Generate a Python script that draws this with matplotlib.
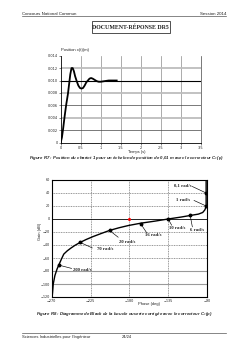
import matplotlib.pyplot as plt
from matplotlib.patches import Rectangle
from matplotlib.lines import Line2D

# Figure R7 : réponse indicielle
temps = [0, 0.03, 0.06, 0.10, 0.14, 0.18, 0.21, 0.24, 0.27, 0.30, 0.33, 0.36,
         0.40, 0.44, 0.48, 0.52, 0.56, 0.60, 0.64, 0.68, 0.72, 0.76, 0.80,
         0.85, 0.90, 0.95, 1.00, 1.10, 1.20, 1.30, 1.40]
position = [0, 0.0008, 0.0022, 0.0043, 0.0062, 0.0078, 0.0094, 0.0110, 0.0120,
            0.0120, 0.0115, 0.0107, 0.0099, 0.0092, 0.0088, 0.0087, 0.0088,
            0.0092, 0.0097, 0.0100, 0.0103, 0.0104, 0.0103, 0.0101, 0.0099,
            0.0098, 0.0098, 0.0099, 0.0100, 0.0100, 0.0100]
t_ticks = [0, 0.5, 1, 1.5, 2, 2.5, 3, 3.5]
t_labels = ['0', '0,5', '1', '1,5', '2', '2,5', '3', '3,5']
x_ticks = [0, 0.002, 0.004, 0.006, 0.008, 0.010, 0.012, 0.014]
x_labels = ['0', '0,002', '0,004', '0,006', '0,008', '0,010', '0,012', '0,014']

# Figure R8 : diagramme de Black
phase = [-269.5, -269, -268.2, -266.3, -263.8, -261.5, -258.5, -256, -252, -248,
         -243, -237, -230, -222, -213, -203, -192, -181, -167, -150, -135,
         -120, -109.5, -100, -95, -92.5, -91.3, -91, -91, -91]
gain = [-120, -113, -100, -87, -77, -70, -61, -54, -49, -45, -40.5, -36, -31.5,
        -27, -22.5, -17.6, -13.5, -10, -6.5, -3.2, 0, 3, 5.4, 7.5, 10, 14, 18,
        20, 40, 60]
pulsations = ['0,1 rad/s', '1 rad/s', '6 rad/s', '10 rad/s', '16 rad/s',
              '20 rad/s', '70 rad/s', '200 rad/s']
pt_phase = [-91, -91, -109.5, -135, -167, -203, -237, -261.5]
pt_gain = [40, 20, 5.4, 0, -7, -17.6, -36, -71]
# position des étiquettes (centre du texte) et bout du trait
lab_xy = [(-118, 51.5), (-118, 29), (-101, -17.5), (-124, -13.5), (-152, -25),
          (-182, -35), (-208, -46), (-234, -79)]
end_xy = [(-107, 50), (-105, 28.5), (-107, -12), (-131, -9.5), (-160, -21),
          (-193, -28), (-223, -44.5), (-247, -76)]

W, H = 248, 351


def fx(x):
    return x / W


def fy(y):
    return 1 - y / H


fig = plt.figure(figsize=(2.48, 3.51), dpi=100)
txt = '#222222'
sans = 'Liberation Sans'
serif = 'Liberation Serif'

# En-tête / pied de page
fig.text(fx(22), fy(15), 'Concours National Commun', fontsize=3.2, family=sans,
         color=txt, ha='left', va='baseline')
fig.text(fx(226), fy(15), 'Session 2014', fontsize=3.2, family=sans,
         color=txt, ha='right', va='baseline')
fig.add_artist(Line2D([fx(22), fx(226)], [fy(16.3), fy(16.3)], lw=0.5, color='#555555'))
fig.add_artist(Line2D([fx(22), fx(226)], [fy(332.5), fy(332.5)], lw=0.5, color='#555555'))
fig.text(fx(22), fy(338), "Sciences Industrielles pour l'Ingénieur", fontsize=3.0,
         family=sans, color=txt, ha='left', va='baseline')
fig.text(fx(122), fy(338), '24/24', fontsize=3.0, family=sans, color=txt,
         ha='left', va='baseline')

# Cadre titre
fig.add_artist(Rectangle((fx(91.5), fy(33)), fx(170) - fx(91.5), fy(21) - fy(33),
                         fill=False, lw=0.6, edgecolor='#333333'))
fig.text(fx(130.7), fy(27.2), 'DOCUMENT-RÉPONSE DR5', fontsize=4.2, family=serif,
         weight='bold', color=txt, ha='center', va='center')

# ---- Figure R7 ----
ax1 = fig.add_axes([fx(60.7), fy(142.5), fx(200.7) - fx(60.7), fy(55.7) - fy(142.5)])
ax1.set_xlim(0, 3.5)
ax1.set_ylim(0, 0.014)
for t in t_ticks[1:-1]:
    ax1.axvline(t, color='#8a8a8a', lw=0.5, zorder=1)
for v in [0.004, 0.008, 0.012]:
    ax1.axhline(v, color='#bdbdbd', lw=1.3, zorder=1)
for v in [0.002, 0.006]:
    ax1.axhline(v, color='#444444', lw=0.5, zorder=1)
ax1.axhline(0.010, color='black', lw=0.8, zorder=1)
ax1.plot(temps, position, color='black', lw=1.3, zorder=3)
ax1.set_xticks(t_ticks, t_labels)
ax1.set_yticks(x_ticks, x_labels)
ax1.tick_params(labelsize=2.5, length=1.2, width=0.4, pad=1, colors=txt)
ax1.spines['top'].set_visible(False)
for s in ['left', 'bottom', 'right']:
    ax1.spines[s].set_linewidth(0.6)
ax1.spines['right'].set_color('#444444')
ax1.spines['right'].set_linewidth(0.5)
fig.text(fx(61), fy(51.5), 'Position x(t)(m)', fontsize=3.0, family=sans,
         color=txt, ha='left', va='baseline')
fig.text(fx(136.5), fy(151.5), 'Temps (s)', fontsize=2.9, family=sans,
         color=txt, ha='center', va='center')
fig.text(fx(126), fy(157.5),
         'Figure R7 : Position du chariot 1 pour un échelon de position de 0,01 m avec le correcteur C$_c$(p)',
         fontsize=3.1, family=sans, style='italic', weight='bold', color=txt,
         ha='center', va='center')

# ---- Figure R8 ----
ax2 = fig.add_axes([fx(51.7), fy(297), fx(207) - fx(51.7), fy(180) - fy(297)])
ax2.set_xlim(-270, -90)
ax2.set_ylim(-120, 60)
for p in [-225, -180, -135]:
    ax2.axvline(p, color='#555555', lw=0.45, ls=(0, (1.5, 1.2)), zorder=1)
for g in [40, 20, -20, -40, -60]:
    ax2.axhline(g, color='#555555', lw=0.45, ls=(0, (1.5, 1.2)), zorder=1)
for g in [-80, -100]:
    ax2.axhline(g, color='#9a9a9a', lw=0.8, zorder=1)
ax2.axhline(0, color='black', lw=0.6, zorder=1)
ax2.plot(phase, gain, color='black', lw=1.0, zorder=3)
ax2.plot(pt_phase, pt_gain, 'o', color='black', ms=1.8, zorder=4)
ax2.plot([-180], [0], 'o', color='red', ms=1.2, zorder=4)
for lab, (px_, py_), (ex, ey), x0, y0 in zip(pulsations, lab_xy, end_xy, pt_phase, pt_gain):
    ax2.plot([x0, ex], [y0, ey], color='black', lw=0.45, zorder=3)
    ax2.text(px_, py_, lab, fontsize=3.4, family=serif, weight='bold', color=txt,
             ha='center', va='center', zorder=5)
ax2.set_xticks([-270, -225, -180, -135, -90])
ax2.set_yticks(range(-120, 61, 20))
ax2.tick_params(labelsize=2.4, length=0, pad=1.5, colors=txt)
for s in ax2.spines.values():
    s.set_linewidth(0.8)
fig.text(fx(40.5), fy(231), 'Gain (dB)', fontsize=2.9, family=sans, color=txt,
         rotation=90, ha='center', va='center')
fig.text(fx(149), fy(304), 'Phase (deg)', fontsize=2.9, family=sans, color=txt,
         ha='center', va='center')
fig.text(fx(124.5), fy(313.5),
         'Figure R8 : Diagramme de Black de la boucle ouverte corrigée avec le correcteur C$_c$(p)',
         fontsize=3.1, family=sans, style='italic', weight='bold', color=txt,
         ha='center', va='center')

fig.savefig('out.png', dpi=100)
